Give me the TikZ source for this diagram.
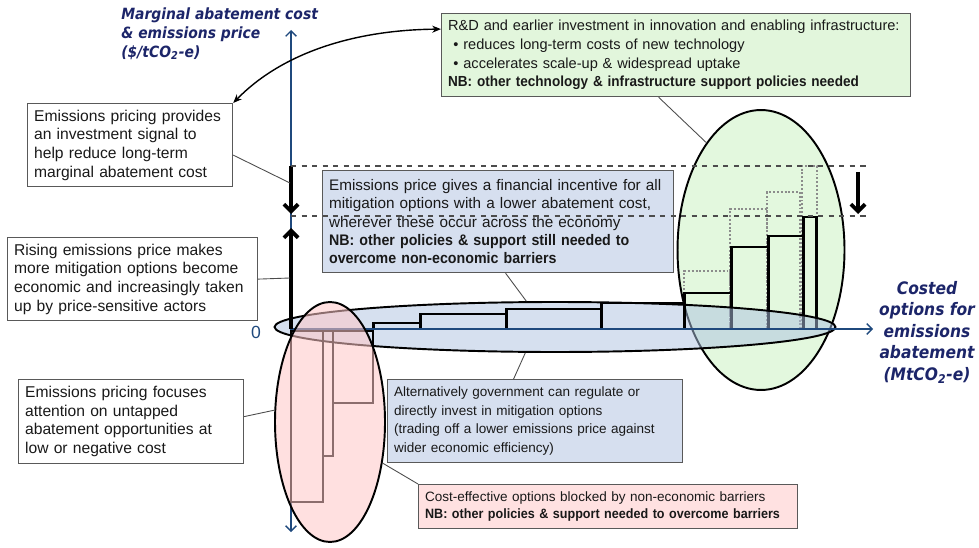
\documentclass[tikz,border=0pt]{standalone}
\usepackage{fontspec}
\setmainfont{Liberation Sans}[BoldFeatures={FakeStretch=0.93}]
\newfontfamily\labelfont{DejaVu Sans Condensed}
\usetikzlibrary{arrows.meta,shapes.geometric}

\definecolor{axisblue}{RGB}{31,73,125}
\definecolor{labelnavy}{RGB}{28,37,105}
\definecolor{boxblue}{RGB}{214,223,239}
\definecolor{boxgreen}{RGB}{226,246,220}
\definecolor{boxpink}{RGB}{255,225,225}
\definecolor{ovalblue}{RGB}{173,194,224}
\definecolor{ovalgreen}{RGB}{227,248,222}
\definecolor{ovalpink}{RGB}{255,199,199}

\tikzset{
  note/.style={draw=black!65, line width=0.7pt, anchor=north west, align=left,
    inner xsep=0.13cm, inner ysep=0pt, text=black!90,
    font=\fontsize{8.9}{10.6}\selectfont},
  oval/.style={ellipse, draw=black, line width=1.1pt, inner sep=0pt},
  bar/.style={draw=black, line width=1.7pt},
  oldbar/.style={draw=black!45, line width=1.1pt, dash pattern=on 1.1pt off 1.1pt},
  link/.style={draw=black!70, line width=0.5pt},
  axis/.style={draw=axisblue, line width=0.8pt},
  shiftarrow/.style={line width=2.2pt, -{Straight Barb[length=4pt,width=8pt]}},
  level/.style={draw=black!70, line width=0.6pt, dashed},
  axislabel/.style={text=labelnavy, inner sep=0pt}
}

\begin{document}
\begin{tikzpicture}[x=0.02cm, y=-0.02cm]
  \useasboundingbox (0,0) rectangle (979,547);

  % axes end points
  \coordinate (origin) at (291,329);
  \coordinate (ytop) at (291,30);
  \coordinate (ybot) at (291,532);
  \coordinate (xend) at (873,329);

  % options costed higher than today's price
  \node[oval, fill=ovalgreen, minimum width=3.34cm, minimum height=5.6cm] (greenov) at (761,250) {};
  \foreach \xa/\xb/\h in {684/730/271, 730/767/209, 767/800/192, 802/817/166}
    \draw[oldbar] (\xa,329) rectangle (\xb,\h);
  \foreach \xa/\xb/\h in {684/731/293, 731/768/247, 768/803/236, 803/816/217}
    \draw[bar] (\xa,329) rectangle (\xb,\h);

  % options below the price
  \node[oval, fill=ovalblue, fill opacity=0.5, minimum width=11.22cm, minimum height=1cm] (blueov) at (555,327) {};
  \foreach \xa/\xb/\h in {373/420/323, 420/506/314, 506/601/309, 601/684/303}
    \draw[bar] (\xa,329) rectangle (\xb,\h);

  \draw[axis, {Straight Barb[length=3pt,width=6pt]}-{Straight Barb[length=3pt,width=6pt]}] (ybot) -- (ytop);
  \draw[axis, -{Straight Barb[length=3pt,width=6pt]}] (origin) -- (xend);
  \node[text=axisblue, font=\fontsize{10}{12}\selectfont] (zero) at (256,332) {0};

  % negative cost options
  \foreach \xa/\xb/\h in {291/323/502, 323/333/456, 333/373/403}
    \draw[bar, line width=1.5pt] (\xa,331) rectangle (\xb,\h);
  \node[oval, fill=ovalpink, fill opacity=0.55, minimum width=2.2cm, minimum height=4.8cm] (pinkov) at (330,422) {};

  % price moves
  \coordinate (raised) at (291,228);
  \coordinate (pricetop) at (291,166);
  \coordinate (pricelow) at (291,214);
  \coordinate (costtop) at (858,172);
  \coordinate (costlow) at (858,214);
  \draw[shiftarrow] (origin) -- (raised);
  \draw[shiftarrow] (pricetop) -- (pricelow);
  \draw[shiftarrow] (costtop) -- (costlow);

  % text boxes
  \node[note, text width=3.84cm, minimum height=1.66cm] (sigbox) at (27,103)
    {Emissions pricing provides\\an investment signal to\\help reduce long-term\\marginal abatement cost};
  \node[note, fill=boxgreen, text width=9.12cm, minimum height=1.66cm,
        font=\fontsize{8.3}{10.6}\selectfont] (rdbox) at (441,13)
    {R\&D and earlier investment in innovation and enabling infrastructure:\\
     \hspace*{3pt}\textbullet\ reduces long-term costs of new technology\\
     \hspace*{3pt}\textbullet\ accelerates scale-up \& widespread uptake\\
     \textbf{NB: other technology \& infrastructure support policies needed}};
  \node[note, fill=boxblue, text width=6.76cm, minimum height=2.04cm,
        font=\fontsize{8.7}{10.5}\selectfont] (incbox) at (322,170)
    {Emissions price gives a financial incentive for all\\
     mitigation options with a lower abatement cost,\\
     wherever these occur across the economy\\
     \textbf{NB: other policies \& support still needed to}\\
     \textbf{overcome non-economic barriers}};
  \node[note, text width=4.74cm, minimum height=1.66cm] (risebox) at (7,237)
    {Rising emissions price makes\\more mitigation options become\\economic and increasingly taken\\up by price-sensitive actors};
  \node[note, text width=4.24cm, minimum height=1.68cm] (focusbox) at (18,379)
    {Emissions pricing focuses\\attention on untapped\\abatement opportunities at\\low or negative cost};
  \node[note, fill=boxblue, text width=5.64cm, minimum height=1.66cm,
        font=\fontsize{7.7}{10.6}\selectfont] (altbox) at (387,379)
    {Alternatively government can regulate or\\directly invest in mitigation options\\
     (trading off a lower emissions price against\\wider economic efficiency)};
  \node[note, fill=boxpink, text width=7.32cm, minimum height=0.88cm,
        font=\fontsize{7.7}{9.7}\selectfont] (blockbox) at (418,484)
    {Cost-effective options blocked by non-economic barriers\\
     \textbf{NB: other policies \& support needed to overcome barriers}};

  % leader lines
  \coordinate (sigfoot) at (290,183);
  \coordinate (risefoot) at (290,278);
  \draw[link] ([yshift=-0.2cm]sigbox.east) -- (sigfoot);
  \draw[link] ([xshift=-0.35cm]rdbox.south) -- (greenov.117);
  \draw[link] ([xshift=0.15cm]incbox.south) -- (blueov.138);
  \draw[link] (risebox.east) -- (risefoot);
  \draw[link] ([yshift=0.1cm]focusbox.east) -- (pinkov.168);
  \draw[link] ([xshift=-0.43cm]altbox.north) -- (blueov.221);
  \draw[link] (blockbox.north west) -- (pinkov.322);
  \draw[line width=0.8pt, {Stealth[length=5pt,width=4pt]}-{Stealth[length=5pt,width=4pt]}]
    ([yshift=0.52cm]rdbox.west) .. controls (350,30) and (280,55) .. (sigbox.north east);

  % price levels
  \draw[level] (pricetop) -- (866,166);
  \draw[level] (291,216) -- (866,216);

  % axis titles
  \node[axislabel, anchor=north west, align=left,
        font=\labelfont\bfseries\itshape\fontsize{8.8}{10.8}\selectfont] (ylabel) at (121,7)
    {Marginal abatement cost\\\& emissions price\\(\$/tCO\textsubscript{2}-e)};
  \node[axislabel, anchor=north, align=center,
        font=\labelfont\bfseries\itshape\fontsize{9.8}{12.2}\selectfont] (xlabel) at (927,281)
    {Costed\\options for\\emissions\\abatement\\(MtCO\textsubscript{2}-e)};
\end{tikzpicture}
\end{document}
